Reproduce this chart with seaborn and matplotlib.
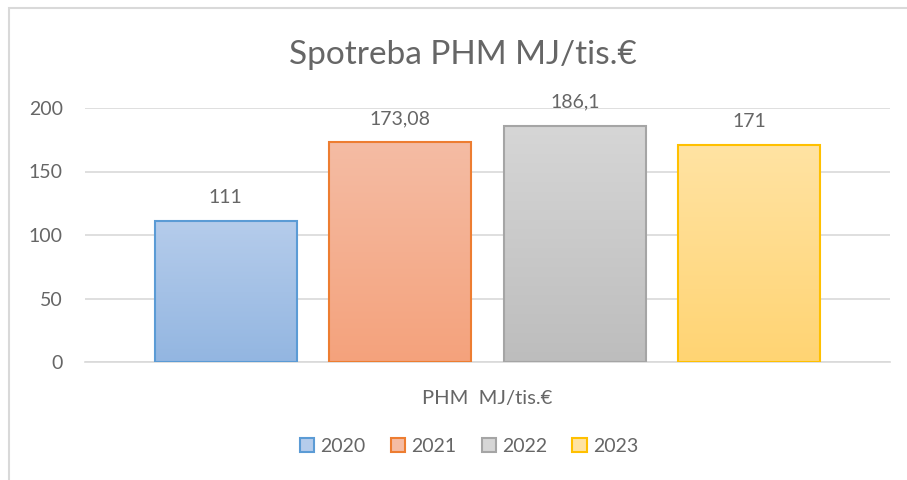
import matplotlib
matplotlib.use("Agg")
import matplotlib.pyplot as plt
import seaborn as sns
import numpy as np
import pandas as pd
from matplotlib.colors import LinearSegmentedColormap
from matplotlib.patches import Rectangle

categories = ["PHM  MJ/tis.€"]
years = ["2020", "2021", "2022", "2023"]
values = [111, 173.08, 186.1, 171]
value_labels = ["111", "173,08", "186,1", "171"]
yticks = [0, 50, 100, 150, 200]

top_colors = ["#B5CCEB", "#F5BCA4", "#D6D6D6", "#FFE3A3"]
bottom_colors = ["#93B6E1", "#F4A27C", "#BDBDBD", "#FFD473"]
edge_colors = ["#5B9BD5", "#ED7D31", "#A5A5A5", "#FFC000"]

sns.set_theme(style="white")
plt.rcParams["font.family"] = ["Lato", "DejaVu Sans"]

df = pd.DataFrame({"cat": categories * len(years), "year": years, "val": values})

fig = plt.figure(figsize=(9.07, 4.8), dpi=100)
ax = fig.add_axes([85/907, 1-362/480, 805/907, (362-108)/480])

sns.barplot(data=df, x="cat", y="val", hue="year", palette=top_colors,
            width=0.867, gap=0.186, ax=ax, legend=True, zorder=3)

ax.set_ylim(0, 200)
ax.set_xlim(-0.5, 0.5)
ax.set_yticks(yticks)
ax.yaxis.grid(True, color="#D9D9D9", linewidth=1.2, zorder=0)
ax.set_axisbelow(True)
for s in ["top", "right", "left"]:
    ax.spines[s].set_visible(False)
ax.spines["bottom"].set_color("#D9D9D9")
ax.spines["bottom"].set_linewidth(1.2)
ax.tick_params(axis="both", length=0, labelcolor="#666666")
ax.tick_params(axis="y", pad=16, labelsize=14)
ax.tick_params(axis="x", pad=20, labelsize=14.5)
ax.set_xlabel("")
ax.set_ylabel("")

patches = [p for p in ax.patches][:len(years)]
for i, p in enumerate(patches):
    x0, y0 = p.get_x(), p.get_y()
    w, h = p.get_width(), p.get_height()
    cmap = LinearSegmentedColormap.from_list("g", [bottom_colors[i], top_colors[i]])
    grad = np.linspace(0, 1, 256).reshape(-1, 1)
    im = ax.imshow(grad, extent=[x0, x0 + w, y0, y0 + h], origin="lower",
                   aspect="auto", cmap=cmap, zorder=3)
    im.set_clip_path(p)
    p.set_facecolor("none")
    p.set_edgecolor(edge_colors[i])
    p.set_linewidth(1.5)
    p.set_zorder(4)
    ax.text(x0 + w / 2, h + 12, value_labels[i], ha="center", va="bottom",
            fontsize=14, color="#666666", zorder=5, clip_on=False)

ax.set_xlim(-0.5, 0.5)
ax.set_ylim(0, 200)

leg = ax.get_legend()
if leg is not None:
    leg.remove()
handles = [Rectangle((0, 0), 1, 1, facecolor=top_colors[i], edgecolor=edge_colors[i], linewidth=1.5)
           for i in range(len(years))]
fig.legend(handles, years, loc="center", bbox_to_anchor=(469/907, 1-446/480), ncol=4,
           frameon=False, fontsize=14, handlelength=0.75, handleheight=0.75,
           handletextpad=0.3, columnspacing=1.3, labelcolor="#666666")

fig.text(463/907, 1-55/480, "Spotreba PHM MJ/tis.€", ha="center", va="center",
         fontsize=24, color="#666666")

fig.patches.append(Rectangle((9/907, -0.1), 1.2, 1 - 8/480 + 0.1, transform=fig.transFigure,
                             fill=False, edgecolor="#D9D9D9", linewidth=1.5, zorder=0))

fig.savefig("out.png", dpi=100)
